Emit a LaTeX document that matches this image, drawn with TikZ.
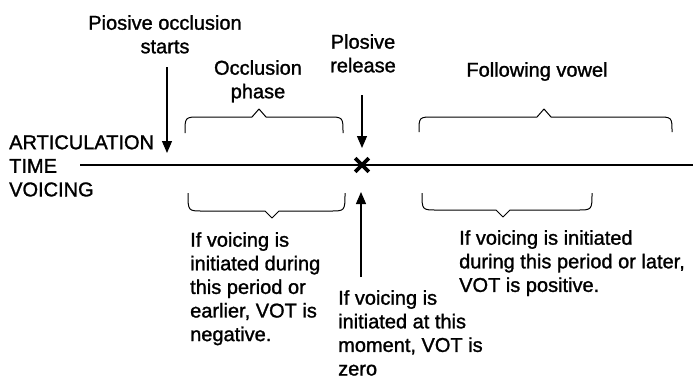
\documentclass[tikz,border=0pt]{standalone}
\usepackage{fontspec}
\setmainfont{Liberation Sans}
\usetikzlibrary{arrows.meta,shapes.misc}

% slightly heavier label face
\font\lblfont="Liberation Sans:embolden=1.3" at 20pt

% curly brace: x-left, x-right, x-tip, y-ends, y-flat, y-tip
\newcommand{\curlybrace}[6]{%
  \draw[bracestyle] (#1,#4) .. controls (#1,#5) .. ({#1+15},#5)
    -- ({#3-7},#5) -- (#3,#6) -- ({#3+7},#5)
    -- ({#2-15},#5) .. controls (#2,#5) .. (#2,#4);}

\begin{document}
\begin{tikzpicture}[x=1pt,y=-1pt,
  txt/.style={inner sep=0pt, font={\lblfont\baselineskip=23.6pt}},
  bracestyle/.style={line width=1pt, line join=round},
  arr/.style={line width=1.2pt, -{Triangle[length=12pt,width=10pt]}},
  axisline/.style={line width=1.2pt}]
\useasboundingbox (0,0) rectangle (693,381);

% labels above the time axis
\node[txt, anchor=north, align=center] (occstart) at (165,15) {Piosive occlusion\\starts};
\node[txt, anchor=north, align=center] (occphase) at (258,60) {Occlusion\\phase};
\node[txt, anchor=north, align=center] (plrel) at (363,34) {Plosive\\release};
\node[txt, anchor=north] (vowel) at (537,62) {Following vowel};

% axis labels
\node[txt, anchor=north west, align=left] (axis) at (9,135) {ARTICULATION\\TIME\\VOICING};

% labels below the time axis
\node[txt, anchor=north west, align=left] (neg) at (190,232)
  {If voicing is\\initiated during\\this period or\\earlier, VOT is\\negative.};
\node[txt, anchor=north west, align=left] (zero) at (338,290)
  {If voicing is\\initiated at this\\moment, VOT is\\zero};
\node[txt, anchor=north west, align=left] (pos) at (459,230)
  {If voicing is initiated\\during this period or later,\\VOT is positive.};

% time axis
\coordinate (lineL) at (80,165);
\coordinate (lineR) at (693,165);
\draw[axisline] (lineL) -- (lineR);

% release point
\node[cross out, draw, line width=3.6pt, minimum size=10pt, inner sep=0pt] (rel) at (362,165) {};

% arrows
\coordinate (a1s) at (167,67);
\coordinate (a1e) at (167,153);
\draw[arr] (a1s) -- (a1e);
\coordinate (a2s) at (362,95);
\coordinate (a2e) at (362,148);
\draw[arr] (a2s) -- (a2e);
\coordinate (a3s) at (361,277);
\coordinate (a3e) at (361,192);
\draw[arr] (a3s) -- (a3e);

% braces above the axis
\curlybrace{185}{343}{259}{133}{117}{109}
\curlybrace{419}{672}{544}{132}{117}{109}
% braces below the axis
\curlybrace{188}{345}{272}{193}{211}{218}
\curlybrace{422}{592}{503}{193}{210}{217}
\end{tikzpicture}
\end{document}
